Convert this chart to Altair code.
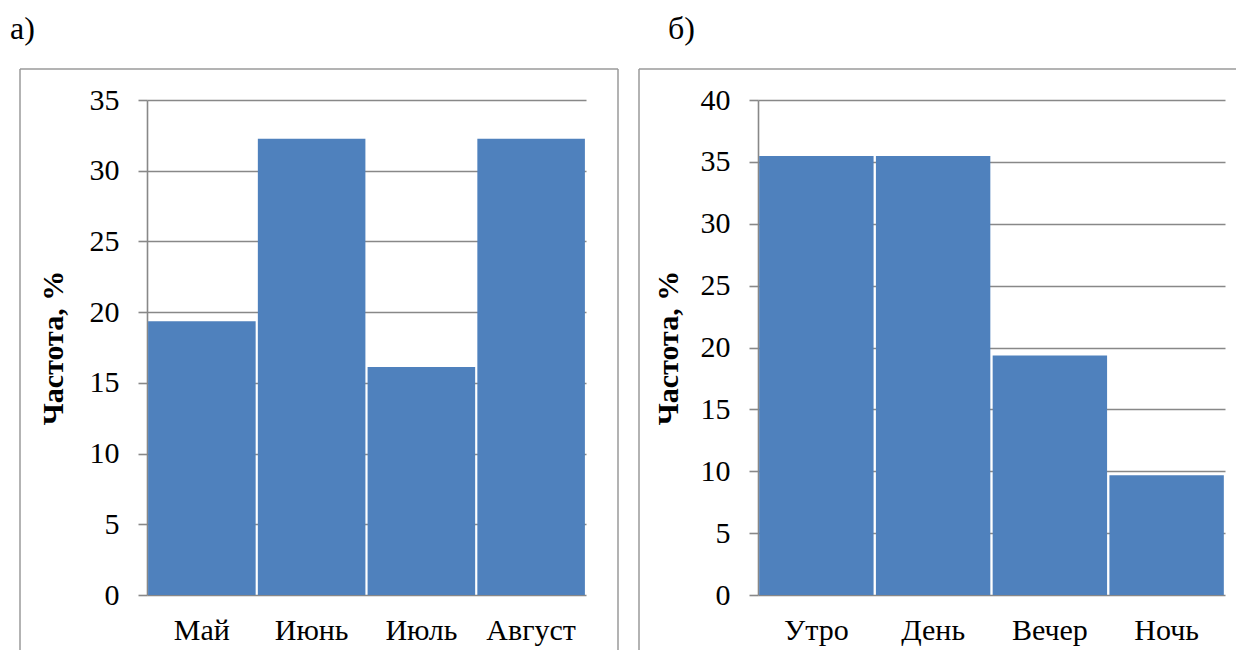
import altair as alt
import pandas as pd

# --- data ---
months = ["Май", "Июнь", "Июль", "Август"]
month_freq = [19.35, 32.26, 16.13, 32.26]
times = ["Утро", "День", "Вечер", "Ночь"]
time_freq = [35.48, 35.48, 19.35, 9.68]
ticks_a = [0, 5, 10, 15, 20, 25, 30, 35]
ticks_b = [0, 5, 10, 15, 20, 25, 30, 35, 40]
y_title = "Частота, %"
panel_labels = ["а)", "б)"]

FONT = "'Times New Roman', 'Liberation Serif', 'DejaVu Serif', serif"
BLUE = "#4F81BD"
GRID = "#888888"
FRAME = "#9a9a9a"
H = 495


def panel(cats, vals, ticks, width, label, label_x, title_x, frame_l, frame_r, draw_right):
    df = pd.DataFrame({"cat": cats, "val": vals})
    bars = alt.Chart(df).mark_bar(color=BLUE).encode(
        x=alt.X(
            "cat:N", sort=cats,
            scale=alt.Scale(paddingInner=0.02, paddingOuter=0.01),
            axis=alt.Axis(title=None, labelAngle=0, ticks=False, tickSize=0, domain=False,
                          labelFont=FONT, labelFontSize=30, labelColor="black",
                          labelPadding=20),
        ),
        y=alt.Y(
            "val:Q",
            scale=alt.Scale(domain=[ticks[0], ticks[-1]], nice=False),
            axis=alt.Axis(values=ticks, title=y_title, titleFont=FONT, titleFontSize=30,
                          titleFontWeight="bold", titleColor="black", titleX=title_x,
                          titleBaseline="middle", titleAngle=270,
                          grid=True, gridColor=GRID, gridWidth=1.6,
                          tickSize=9, tickColor=GRID, tickWidth=1.6,
                          domainColor=GRID, domainWidth=1.6,
                          labelFont=FONT, labelFontSize=30, labelColor="black",
                          labelPadding=19),
        ),
    )
    one = pd.DataFrame({"k": [0]})
    top = -31
    bottom = 550
    rules = [
        alt.Chart(one).mark_rule(color=FRAME, strokeWidth=1.5).encode(
            x=alt.value(frame_l), x2=alt.value(frame_r), y=alt.value(top)),
        alt.Chart(one).mark_rule(color=FRAME, strokeWidth=1.5).encode(
            x=alt.value(frame_l), y=alt.value(top), y2=alt.value(bottom)),
    ]
    if draw_right:
        rules.append(alt.Chart(one).mark_rule(color=FRAME, strokeWidth=1.5).encode(
            x=alt.value(frame_r), y=alt.value(top), y2=alt.value(bottom)))
    txt = alt.Chart(one).mark_text(align="left", baseline="top", font=FONT, fontSize=32,
                                   color="black").encode(
        x=alt.value(label_x), y=alt.value(-86), text=alt.value(label))
    return alt.layer(bars, *rules, txt).properties(width=width, height=H)


pa = panel(months, month_freq, ticks_a, 439, panel_labels[0], -137, -94, -127, 471, True)
pb = panel(times, time_freq, ticks_b, 467, panel_labels[1], -90, -90, -119, 478, False)

chart = alt.hconcat(pa, pb, spacing=172, bounds="flush").properties(
    padding={"left": 2, "top": 5, "right": 0, "bottom": 0}
).configure_view(stroke=None)

chart.save("out.html", embed_options={"renderer": "svg", "actions": False})
